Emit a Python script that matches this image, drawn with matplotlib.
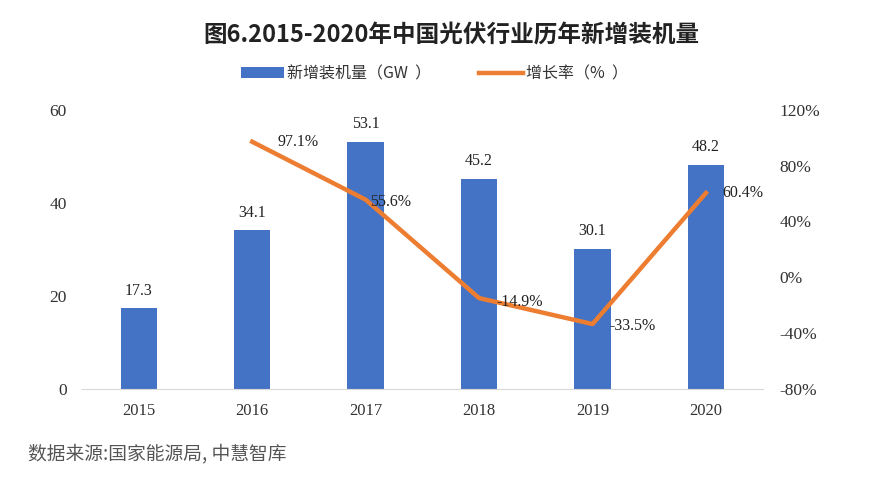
import matplotlib
matplotlib.use("Agg")
import matplotlib.pyplot as plt

years = ["2015", "2016", "2017", "2018", "2019", "2020"]
capacity = [17.3, 34.1, 53.1, 45.2, 30.1, 48.2]
growth_years = ["2016", "2017", "2018", "2019", "2020"]
growth = [97.1, 55.6, -14.9, -33.5, 60.4]

cjk = ["Noto Sans CJK SC", "DejaVu Sans"]
serif = ["Liberation Serif", "DejaVu Serif"]

fig = plt.figure(figsize=(8.92, 4.88), dpi=100)
ax = fig.add_axes([0.092, 0.203, 0.763, 0.572])
ax2 = ax.twinx()

x = list(range(len(years)))
bars = ax.bar(x, capacity, width=0.32, color="#4472C4", label="新增装机量（GW  ）", zorder=2)
gx = [years.index(y) for y in growth_years]
line, = ax2.plot(gx, growth, color="#ED7D31", lw=3.2, label="增长率（%  ）", zorder=3)

ax.set_xlim(-0.5, 5.5)
ax.set_ylim(0, 60)
ax.set_yticks([0, 20, 40, 60])
ax2.set_ylim(-80, 120)
ax2.set_yticks([-80, -40, 0, 40, 80, 120])
ax2.set_yticklabels([f"{v}%" for v in [-80, -40, 0, 40, 80, 120]])
ax.set_xticks(x)
ax.set_xticklabels(years)

for a in (ax, ax2):
    for s in ["top", "left", "right"]:
        a.spines[s].set_visible(False)
    a.spines["bottom"].set_color("#d9d9d9")
    a.tick_params(length=0, labelsize=12.5, colors="#333333")
    for lab in a.get_yticklabels() + a.get_xticklabels():
        lab.set_family(serif)
ax2.spines["bottom"].set_visible(False)
ax.tick_params(axis="x", labelsize=12)
ax.tick_params(axis="y", pad=11)
ax2.tick_params(axis="y", pad=12)
ax.tick_params(axis="x", pad=10)

for xi, v in zip(x, capacity):
    ax.annotate(f"{v}", (xi, v), xytext=(0, 7), textcoords="offset points",
                ha="center", va="bottom", fontsize=11.5, family=serif, color="#222222")

offsets = [(18, 0), (3.5, -1.5), (12.5, -2.5), (12, -1.5), (12, 0)]
for xi, v, (dx, dy) in zip(gx, growth, offsets):
    ax2.annotate(f"{v}%", (xi, v), xytext=(dx, dy), textcoords="offset points",
                 ha="left", va="center", fontsize=11.5, family=serif, color="#222222")

fig.text(0.506, 0.928, "图6.2015-2020年中国光伏行业历年新增装机量", ha="center", va="center",
         fontsize=17, fontweight="bold", family=cjk, color="#222222")

leg = fig.legend(handles=[bars, line], loc="center", bbox_to_anchor=(0.487, 0.849), ncol=2,
                 frameon=False, prop={"family": cjk, "size": 11.5}, handlelength=2.7,
                 columnspacing=3.0, handletextpad=0.2)
for t in leg.get_texts():
    t.set_color("#333333")

fig.text(0.031, 0.071, "数据来源:国家能源局, 中慧智库", ha="left", va="center",
         fontsize=13.5, style="italic", family=cjk, color="#555555")

fig.savefig("out.png", dpi=100)
